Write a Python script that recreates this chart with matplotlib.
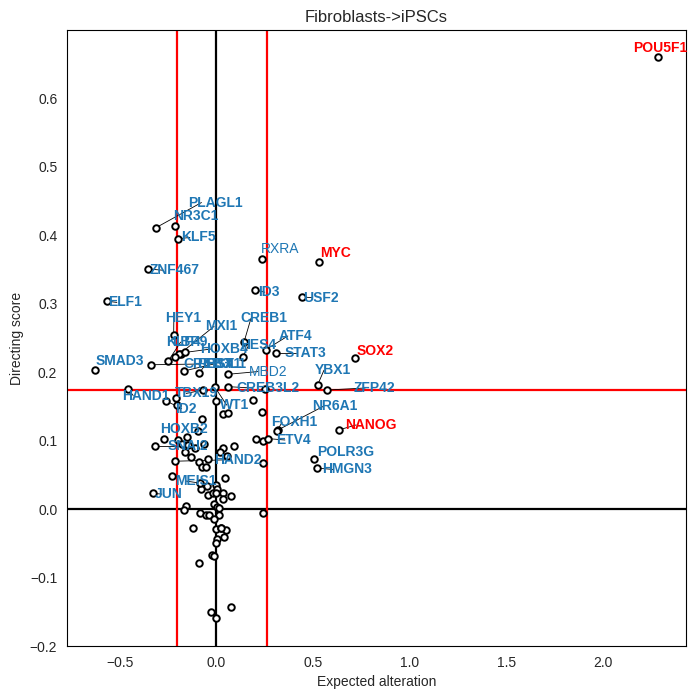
import matplotlib
matplotlib.use("Agg")
import matplotlib.pyplot as plt
import seaborn as sns

sns.set_style("white")
plt.rcParams['font.family'] = ['Liberation Sans', 'DejaVu Sans']

# labelled factors: name, expected alteration, directing score
genes = ["POU5F1", "PLAGL1", "NR3C1", "KLF5", "ZNF467", "RXRA", "MYC", "ID3", "USF2",
         "ELF1", "HEY1", "CREB1", "MXI1", "KLF4", "LBP9", "HOXB4", "HES4", "ATF4",
         "STAT3", "SMAD3", "CREB3L1", "PBX1", "REST", "MBD2", "SOX2", "YBX1", "ZFP42",
         "HAND1", "TBX19", "CREB3L2", "ID2", "WT1", "NR6A1", "FOXH1", "NANOG", "HOXB2",
         "ETV4", "SNAI2", "POLR3G", "HAND2", "HMGN3", "MEIS1", "JUN"]
gene_x = [2.286, -0.314, -0.214, -0.197, -0.355, 0.235, 0.530, 0.202, 0.444,
          -0.567, -0.221, 0.143, -0.193, -0.214, -0.248, -0.162, 0.137, 0.256,
          0.311, -0.628, -0.336, -0.166, -0.088, 0.059, 0.718, 0.525, 0.571,
          -0.455, -0.071, 0.059, -0.260, -0.007, 0.321, 0.313, 0.637, -0.093,
          0.269, -0.317, 0.504, -0.214, 0.520, -0.084, -0.326]
gene_y = [0.660, 0.411, 0.413, 0.395, 0.351, 0.366, 0.361, 0.320, 0.310,
          0.304, 0.255, 0.244, 0.226, 0.223, 0.217, 0.229, 0.222, 0.233,
          0.228, 0.203, 0.211, 0.202, 0.199, 0.197, 0.221, 0.182, 0.174,
          0.175, 0.174, 0.179, 0.158, 0.178, 0.116, 0.114, 0.116, 0.114,
          0.103, 0.092, 0.073, 0.070, 0.060, 0.038, 0.023]

# remaining, unlabelled factors
other_x = [-0.209, -0.205, 0.000, 0.192, 0.036, 0.062, 0.237, -0.076, -0.273, -0.153,
           -0.200, -0.179, -0.145, -0.064, -0.162, -0.133, -0.110, 0.036, 0.093, 0.019,
           0.054, 0.204, 0.240, -0.088, -0.045, -0.076, -0.055, 0.240, -0.228, -0.050,
           -0.081, -0.002, 0.002, 0.043, 0.036, 0.074, -0.045, -0.015, 0.036, 0.000,
           -0.010, 0.002, 0.016, -0.157, -0.166, -0.084, -0.055, -0.036, 0.016, -0.012,
           0.243, -0.122, -0.003, 0.024, 0.050, 0.005, 0.040, -0.003, -0.022, -0.010,
           -0.088, -0.027, -0.002, 0.074, 0.250, -0.185, 0.025]
other_y = [0.162, 0.152, 0.158, 0.159, 0.139, 0.141, 0.142, 0.132, 0.102, 0.105,
           0.101, 0.095, 0.093, 0.095, 0.084, 0.076, 0.089, 0.090, 0.092, 0.084,
           0.077, 0.103, 0.099, 0.069, 0.073, 0.062, 0.062, 0.068, 0.048, 0.034,
           0.030, 0.035, 0.030, 0.045, 0.024, 0.019, 0.020, 0.023, 0.015, 0.023,
           0.008, 0.003, 0.001, 0.005, -0.001, -0.005, -0.008, -0.008, -0.008, -0.014,
           -0.005, -0.027, -0.029, -0.027, -0.030, -0.044, -0.041, -0.049, -0.067, -0.069,
           -0.078, -0.150, -0.159, -0.143, 0.175, 0.227, -0.028]

core_factors = ["POU5F1", "MYC", "SOX2", "NANOG"]
plain_labels = ["RXRA", "MBD2"]
x_cut = [-0.203, 0.262]
y_cut = 0.1737

# label placement (left edge, vertical centre), as the repelled layout put them
label_pos = {
    "POU5F1": (2.157, 0.674), "PLAGL1": (-0.146, 0.448), "NR3C1": (-0.224, 0.428),
    "KLF5": (-0.183, 0.397), "ZNF467": (-0.343, 0.349), "RXRA": (0.231, 0.380),
    "MYC": (0.536, 0.374), "ID3": (0.216, 0.317), "USF2": (0.448, 0.309),
    "ELF1": (-0.561, 0.302), "HEY1": (-0.266, 0.279), "CREB1": (0.122, 0.279),
    "MXI1": (-0.058, 0.267), "KLF4": (-0.260, 0.244), "LBP9": (-0.231, 0.244),
    "HOXB4": (-0.084, 0.234), "HES4": (0.122, 0.240), "ATF4": (0.324, 0.253),
    "STAT3": (0.355, 0.228), "SMAD3": (-0.623, 0.216), "CREB3L1": (-0.172, 0.212),
    "PBX1": (-0.060, 0.212), "REST": (-0.100, 0.212), "MBD2": (0.169, 0.201),
    "SOX2": (0.728, 0.231), "YBX1": (0.511, 0.203), "ZFP42": (0.713, 0.177),
    "HAND1": (-0.488, 0.166), "TBX19": (-0.214, 0.169), "CREB3L2": (0.103, 0.177),
    "ID2": (-0.214, 0.147), "WT1": (0.019, 0.152), "NR6A1": (0.495, 0.150),
    "FOXH1": (0.283, 0.127), "NANOG": (0.666, 0.123), "HOXB2": (-0.292, 0.117),
    "ETV4": (0.309, 0.101), "SNAI2": (-0.255, 0.092), "POLR3G": (0.521, 0.083),
    "HAND2": (-0.012, 0.072), "HMGN3": (0.547, 0.058), "MEIS1": (-0.214, 0.041),
    "JUN": (-0.317, 0.022),
}
no_line = ["POU5F1", "RXRA", "MYC", "SOX2", "SMAD3", "POLR3G", "HOXB2", "NR3C1", "KLF4"]

fig = plt.figure(figsize=(6.96, 6.99), dpi=100)
ax = fig.add_axes([0.0963, 0.0758, 0.8893, 0.8812])

ax.axhline(0, color="black", lw=1.6, zorder=1)
ax.axvline(0, color="black", lw=1.6, zorder=1)
for xc in x_cut:
    ax.axvline(xc, color="red", lw=1.6, zorder=1)
ax.axhline(y_cut, color="red", lw=1.6, zorder=1)

ax.scatter(other_x + gene_x, other_y + gene_y, s=22, facecolors="white",
           edgecolors="black", linewidths=1.4, zorder=3)

for g, gx, gy in zip(genes, gene_x, gene_y):
    tx, ty = label_pos[g]
    color = "red" if g in core_factors else "#1f77b4"
    weight = "normal" if g in plain_labels else "bold"
    ax.text(tx, ty, g, color=color, fontsize=10, fontweight=weight,
            ha="left", va="center", zorder=5)
    if g not in no_line:
        # line from point to the centre of its label
        w = len(g) * 0.023
        ax.plot([gx, tx + w / 2], [gy, ty], color="black", lw=0.6, zorder=2)

ax.set_xlim(-0.773, 2.431)
ax.set_ylim(-0.2, 0.7)
ax.set_xticks([-0.5, 0.0, 0.5, 1.0, 1.5, 2.0])
ax.set_yticks([-0.2, -0.1, 0.0, 0.1, 0.2, 0.3, 0.4, 0.5, 0.6])
ax.tick_params(labelsize=10)
ax.set_xlabel("Expected alteration", fontsize=10)
ax.set_ylabel("Directing score", fontsize=10)
ax.set_title("Fibroblasts->iPSCs", fontsize=12)
for s in ax.spines.values():
    s.set_color("black")

fig.savefig("out.png", dpi=100)
